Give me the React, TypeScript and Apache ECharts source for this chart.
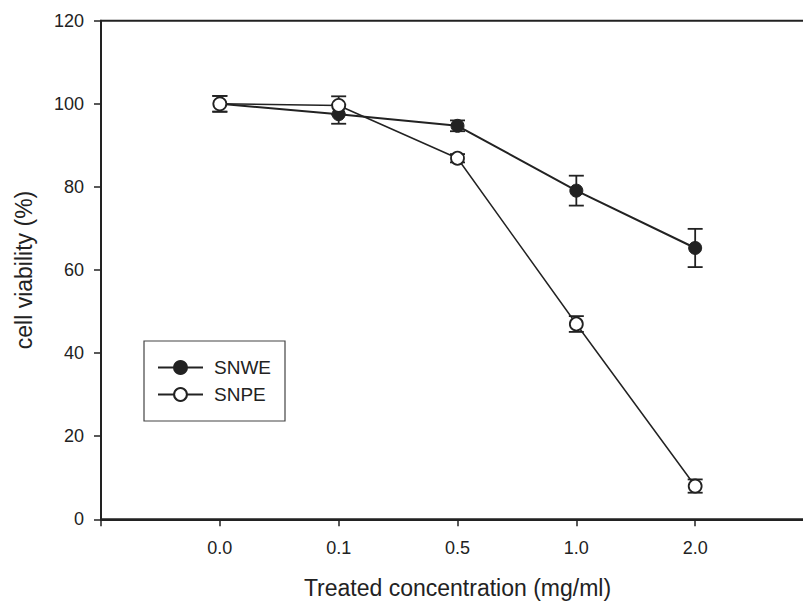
import React, { useEffect, useRef } from "react";
import * as echarts from "echarts";

const xLabels = ["0.0", "0.1", "0.5", "1.0", "2.0"];
const snweMean = [100, 97.5, 94.7, 79.1, 65.3];
const snweErr = [1.9, 2.3, 1.3, 3.6, 4.6];
const snpeMean = [100, 99.6, 86.9, 47.0, 8.0];
const snpeErr = [1.9, 2.2, 1.0, 1.9, 1.6];
const yTicks = [0, 20, 40, 60, 80, 100, 120];

const INK = "#222";
const FONT = "Liberation Sans, Arial, sans-serif";

function errData(mean: number[], err: number[]) {
  return mean.map((m, i) => [i, m - err[i], m + err[i]]);
}

function errSeries(name: string, mean: number[], err: number[]) {
  return {
    type: "custom",
    name: name + "-err",
    z: 1,
    silent: true,
    data: errData(mean, err),
    encode: { x: 0, y: [1, 2] },
    renderItem: (params: any, api: any) => {
      const x = api.value(0);
      const lo = api.value(1);
      const hi = api.value(2);
      const p1 = api.coord([x, hi]);
      const p2 = api.coord([x, lo]);
      const w = 7.5;
      const st = { stroke: INK, lineWidth: 1.8 };
      return {
        type: "group",
        children: [
          { type: "line", shape: { x1: p1[0], y1: p1[1], x2: p2[0], y2: p2[1] }, style: st },
          { type: "line", shape: { x1: p1[0] - w, y1: p1[1], x2: p1[0] + w, y2: p1[1] }, style: st },
          { type: "line", shape: { x1: p2[0] - w, y1: p2[1], x2: p2[0] + w, y2: p2[1] }, style: st },
        ],
      };
    },
  };
}

export default function App() {
  const ref = useRef<HTMLDivElement>(null);
  useEffect(() => {
    document.body.style.margin = "0";
    const chart = echarts.init(ref.current!, null, { renderer: "svg" });
    chart.setOption({
      animation: false,
      backgroundColor: "#fff",
      textStyle: { fontFamily: FONT, color: INK },
      grid: {
        left: 101,
        top: 20.7,
        height: 498.6,
        width: 713,
        containLabel: false,
        outerBoundsMode: "none",
        show: true,
        borderColor: INK,
        borderWidth: 2,
        backgroundColor: "transparent",
      },
      legend: {
        orient: "vertical",
        left: 144,
        top: 341,
        data: ["SNWE", "SNPE"],
        itemWidth: 45,
        itemHeight: 16,
        itemGap: 8,
        padding: [17, 14, 17, 13],
        borderColor: "#444",
        borderWidth: 1.2,
        textStyle: { fontFamily: FONT, fontSize: 19, color: INK, padding: [0, 0, 0, 6] },
      },
      xAxis: {
        type: "value",
        min: -1,
        max: 5,
        interval: 1,
        axisLine: { show: true, onZero: false, lineStyle: { color: INK, width: 2 } },
        axisTick: { show: true, length: 7, inside: false, lineStyle: { color: INK, width: 1.5 } },
        splitLine: { show: false },
        axisLabel: {
          margin: 20,
          fontSize: 18,
          fontFamily: FONT,
          color: INK,
          formatter: (v: number) => (v >= 0 && v < xLabels.length ? xLabels[v] : ""),
        },
        name: "Treated concentration (mg/ml)",
        nameLocation: "middle",
        nameGap: 57,
        nameTextStyle: { fontSize: 23, fontFamily: FONT, color: INK },
      },
      yAxis: {
        type: "value",
        min: yTicks[0],
        max: yTicks[yTicks.length - 1],
        interval: 20,
        axisLine: { show: true, onZero: false, lineStyle: { color: INK, width: 2 } },
        axisTick: { show: true, length: 7, lineStyle: { color: INK, width: 1.5 } },
        splitLine: { show: false },
        axisLabel: { margin: 17, fontSize: 18, fontFamily: FONT, color: INK },
        name: "cell viability (%)",
        nameLocation: "middle",
        nameGap: 66,
        nameTextStyle: { fontSize: 23, fontFamily: FONT, color: INK },
      },
      series: [
        errSeries("SNWE", snweMean, snweErr),
        errSeries("SNPE", snpeMean, snpeErr),
        {
          type: "line",
          name: "SNWE",
          z: 3,
          data: snweMean.map((v, i) => [i, v]),
          symbol: "circle",
          symbolSize: 13,
          showAllSymbol: true,
          lineStyle: { color: INK, width: 2 },
          itemStyle: { color: INK, borderColor: INK, borderWidth: 1 },
        },
        {
          type: "line",
          name: "SNPE",
          z: 4,
          data: snpeMean.map((v, i) => [i, v]),
          symbol: "circle",
          symbolSize: 13,
          showAllSymbol: true,
          lineStyle: { color: INK, width: 1.5 },
          itemStyle: { color: "#fff", borderColor: INK, borderWidth: 1.8 },
        },
      ],
    });
    return () => chart.dispose();
  }, []);
  return <div ref={ref} style={{ width: 803, height: 602 }} />;
}
